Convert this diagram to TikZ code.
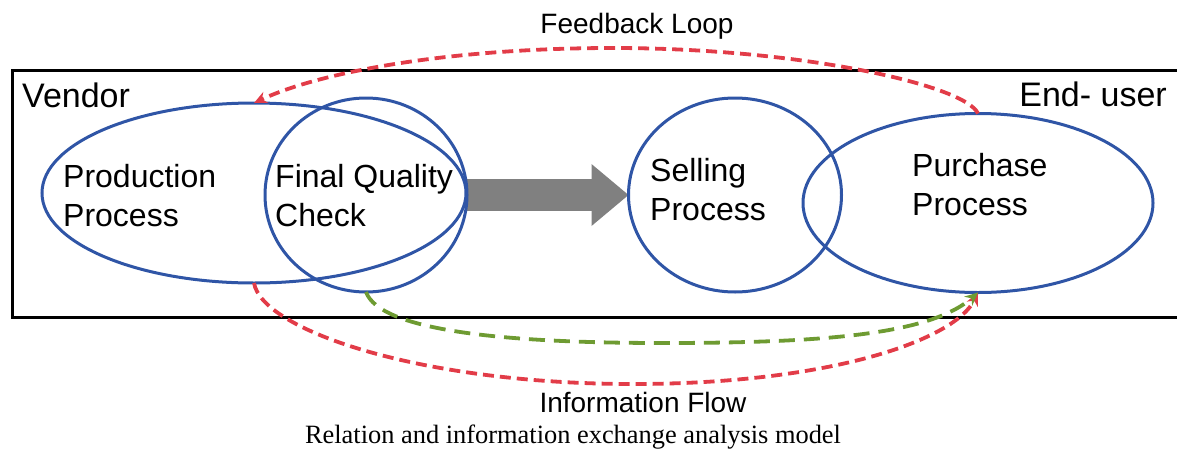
\documentclass[tikz,border=0pt]{standalone}
\usepackage{fontspec}
\setmainfont{Liberation Sans}
\newfontfamily\captionserif{Liberation Serif}
\usepackage{tikz}
\usetikzlibrary{arrows.meta,positioning,shapes.geometric,backgrounds}
\definecolor{procblue}{RGB}{47,85,166}
\definecolor{loopred}{RGB}{226,60,72}
\definecolor{flowgreen}{RGB}{110,155,50}

\begin{document}
\begin{tikzpicture}[
    x=1pt, y=-1pt,
    proc/.style={draw=procblue, line width=3pt, ellipse, inner sep=0pt, outer sep=0pt},
    lbl/.style={align=left, anchor=north west, inner sep=0pt, font=\fontsize{32}{39}\selectfont},
    side/.style={inner sep=0pt, font=\fontsize{34}{40}\selectfont},
    flowlbl/.style={inner sep=0pt, anchor=base, font=\fontsize{28}{34}\selectfont},
    redflow/.style={draw=loopred, line width=3.8pt, dash pattern=on 11pt off 6pt, -{Stealth[length=13pt,width=12pt]}},
    greenflow/.style={draw=flowgreen, line width=3.8pt, dash pattern=on 16pt off 9pt, -{Stealth[length=13pt,width=12pt]}},
  ]
    \clip (0,0) rectangle (1177,450);
    % Frame
    \draw[line width=3pt] (12,70) rectangle (1200,317);
    \node[side, anchor=base west] (vendor) at (22,107) {Vendor};
    \node[side, anchor=base east] (enduser) at (1167,106) {End- user};

    % Processes
    \node[proc, minimum width=424pt, minimum height=180pt] (prod) at (254,193) {};
    \node[proc, minimum width=202pt, minimum height=194pt] (fqc) at (366,195) {};
    \node[proc, minimum width=213pt, minimum height=194pt] (sell) at (735,195) {};
    \node[proc, minimum width=350pt, minimum height=179pt] (purch) at (978,203) {};
    \node[lbl] (prodtxt) at (63,164.6) {Production\\Process};
    \node[lbl] (fqctxt) at (275,164.3) {Final Quality\\Check};
    \node[lbl] (selltxt) at (650,158.6) {Selling\\Process};
    \node[lbl] (purchtxt) at (912,153.6) {Purchase\\Process};

    % Hand over
    \begin{pgfonlayer}{background}
      \draw[draw=gray, line width=32pt, -{Triangle[length=37pt, width=62pt, line width=0pt]}] (fqc.east) -- (sell.west);
    \end{pgfonlayer}

    % Loops
    \coordinate (fbtop) at (613,48);
    \coordinate (iflow) at (633,384);
    \coordinate (gflow) at (663,343);
    \draw[redflow] (purch.north) .. controls (965,85) and (800,48) .. (fbtop)
        .. controls (450,48) and (320,72) .. (prod.north);
    \draw[redflow] (prod.south) .. controls (262,330) and (420,384) .. (iflow)
        .. controls (830,384) and (955,340) .. (purch.south);
    \draw[greenflow] (fqc.south) .. controls (380,330) and (500,343) .. (gflow)
        .. controls (820,343) and (930,335) .. (purch.south);
    \node[flowlbl] (fbtxt) at (637,33) {Feedback Loop};
    \node[flowlbl] (iftxt) at (643,412) {Information Flow};
    \node[inner sep=0pt, anchor=base, font=\captionserif\fontsize{26.4}{32}\selectfont] (caption) at (573,443) {Relation and information exchange analysis model};
\end{tikzpicture}
\end{document}
